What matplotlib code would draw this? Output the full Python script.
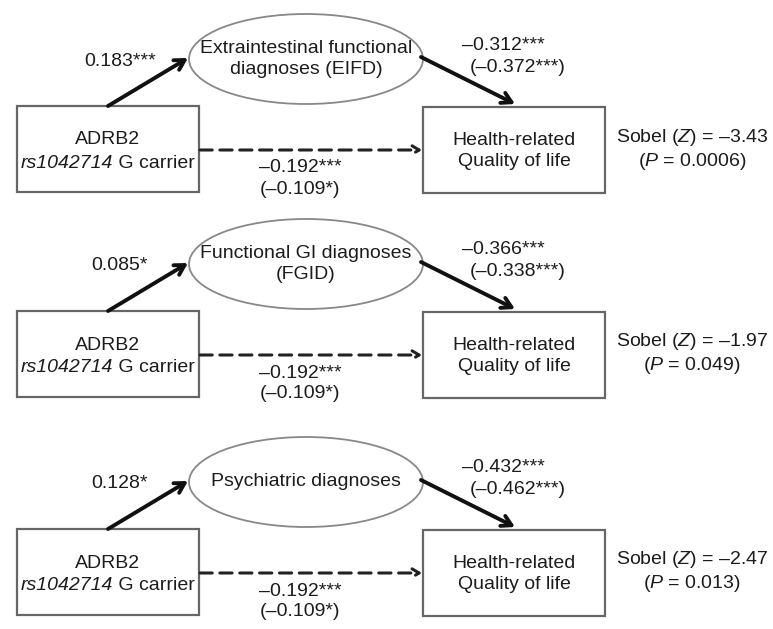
import matplotlib
matplotlib.use("Agg")
import matplotlib.pyplot as plt
from matplotlib.patches import Rectangle, Ellipse, FancyArrowPatch

plt.rcParams["font.family"] = ["Liberation Sans", "DejaVu Sans"]
plt.rcParams["mathtext.fontset"] = "custom"
plt.rcParams["mathtext.rm"] = "Liberation Sans"
plt.rcParams["mathtext.it"] = "Liberation Sans:italic"

# Mediation models: exposure -> mediator -> outcome
mediators = ["Extraintestinal functional\ndiagnoses (EIFD)",
             "Functional GI diagnoses\n(FGID)",
             "Psychiatric diagnoses"]
a_paths = ["0.183***", "0.085*", "0.128*"]
b_paths = ["–0.312***", "–0.366***", "–0.432***"]
b_paths_adj = ["(–0.372***)", "(–0.338***)", "(–0.462***)"]
c_total = ["–0.192***", "–0.192***", "–0.192***"]
c_direct = ["(–0.109*)", "(–0.109*)", "(–0.109*)"]
sobel_z = ["–3.43", "–1.97", "–2.47"]
sobel_p = ["0.0006", "0.049", "0.013"]
gene = "ADRB2"
snp = "rs1042714"
genotype = " G carrier"
outcome = "Health-related\nQuality of life"

W, H = 773, 629
fig = plt.figure(figsize=(W / 100, H / 100), dpi=100)
ax = fig.add_axes([0, 0, 1, 1])
ax.set_xlim(0, W)
ax.set_ylim(H, 0)
ax.axis("off")
renderer = fig.canvas.get_renderer()

TXT = "#1c1c1c"
EDGE = "#666666"
FS = 14
offsets = [0, 205, 423]


def mixed_line(cx, y, italic_part, plain_part):
    """Centre an italic run followed by an upright run on one line."""
    t1 = ax.text(0, y, italic_part, style="italic", ha="left", va="center",
                 fontsize=FS, color=TXT)
    t2 = ax.text(0, y, plain_part, ha="left", va="center",
                 fontsize=FS, color=TXT)
    w1 = t1.get_window_extent(renderer).width
    w2 = t2.get_window_extent(renderer).width
    x0 = cx - (w1 + w2) / 2
    t1.set_x(x0)
    t2.set_x(x0 + w1)


for i, dy in enumerate(offsets):
    # boxes
    ax.add_patch(Rectangle((17, 106 + dy), 182, 86, fill=False,
                           edgecolor=EDGE, linewidth=1.6))
    ax.add_patch(Rectangle((423, 107 + dy), 182, 86, fill=False,
                           edgecolor=EDGE, linewidth=1.6))
    # mediator ellipse
    ax.add_patch(Ellipse((306, 59 + dy), 234, 90, fill=False,
                         edgecolor="#888888", linewidth=1.3))

    # exposure box text
    ax.text(108, 140 + dy, gene, ha="center", va="center",
            fontsize=FS, color=TXT)
    mixed_line(108, 163 + dy, snp, genotype)
    # outcome text
    ax.text(514, 151 + dy, outcome, ha="center", va="center",
            fontsize=FS, color=TXT, linespacing=1.25)
    # mediator text
    ax.text(306, 59 + dy, mediators[i], ha="center", va="center",
            fontsize=FS, color=TXT, linespacing=1.25)

    # a path
    ax.add_patch(FancyArrowPatch((108, 106 + dy), (188, 58 + dy),
                                 arrowstyle="->,head_length=7,head_width=4",
                                 color="#111111", linewidth=2.8,
                                 shrinkA=0, shrinkB=0))
    # b path
    ax.add_patch(FancyArrowPatch((421, 57 + dy), (515, 104 + dy),
                                 arrowstyle="->,head_length=7,head_width=4",
                                 color="#111111", linewidth=2.8,
                                 shrinkA=0, shrinkB=0))
    # c path (dashed)
    ax.add_patch(FancyArrowPatch((200, 150 + dy), (422, 150 + dy),
                                 arrowstyle="->,head_length=5,head_width=3",
                                 color="#222222", linewidth=2.2,
                                 linestyle=(0, (4, 2.5)),
                                 shrinkA=0, shrinkB=0))

    # path coefficients
    ax.text(120, 61 + dy, a_paths[i], ha="center", va="center",
            fontsize=FS, color=TXT)
    ax.text(503, 45 + dy, b_paths[i], ha="center", va="center",
            fontsize=FS, color=TXT)
    ax.text(518, 67 + dy, b_paths_adj[i], ha="center", va="center",
            fontsize=FS, color=TXT)
    ax.text(300, 168 + dy, c_total[i], ha="center", va="center",
            fontsize=FS, color=TXT)
    ax.text(300, 189 + dy, c_direct[i], ha="center", va="center",
            fontsize=FS, color=TXT)

    # Sobel test
    ax.text(692, 137 + dy, r"Sobel ($\mathit{Z}$) = %s" % sobel_z[i],
            ha="center", va="center", fontsize=FS, color=TXT)
    ax.text(692, 161 + dy, r"($\mathit{P}$ = %s)" % sobel_p[i],
            ha="center", va="center", fontsize=FS, color=TXT)

fig.savefig("out.png", dpi=100, facecolor="white")
